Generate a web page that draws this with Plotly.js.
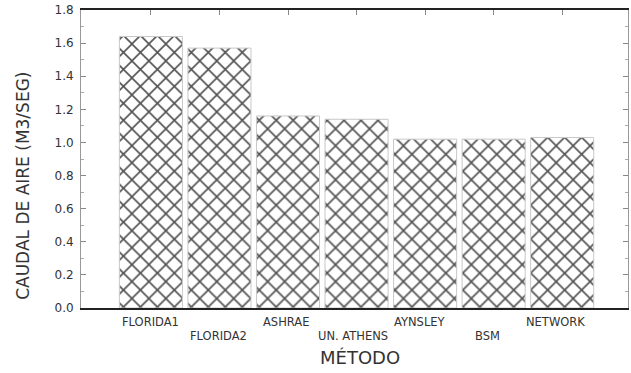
<!DOCTYPE html>
<html>
<head>
<meta charset="utf-8">
<script src="https://cdn.plot.ly/plotly-3.0.1.min.js"></script>
<style>html,body{margin:0;padding:0;background:#fff;}#chart{width:631px;height:373px;}</style>
</head>
<body>
<div id="chart"></div>
<script>
// Data
var categories = ["FLORIDA1", "FLORIDA2", "ASHRAE", "UN. ATHENS", "AYNSLEY", "BSM", "NETWORK"];
var caudal = [1.64, 1.57, 1.16, 1.14, 1.02, 1.02, 1.03];
var yTickVals = [0, 0.2, 0.4, 0.6, 0.8, 1.0, 1.2, 1.4, 1.6, 1.8];
var yTickText = ["0.0", "0.2", "0.4", "0.6", "0.8", "1.0", "1.2", "1.4", "1.6", "1.8"];
var yTitle = "CAUDAL DE AIRE (M3/SEG)";
var xTitle = "MÉTODO";

var font = "DejaVu Sans, Arial, sans-serif";
var textColor = "#333333";

var trace = {
  type: "bar",
  x: categories.map(function (c, i) { return i; }),
  y: caudal,
  width: 0.92,
  marker: {
    color: "#ffffff",
    line: { color: "#c8c8c8", width: 1 },
    pattern: { shape: "x", size: 12, solidity: 0.25, fgcolor: "#333333", bgcolor: "#ffffff", fgopacity: 0.85 }
  },
  hoverinfo: "skip"
};

var annotations = categories.map(function (c, i) {
  return {
    text: c, x: i, xref: "x", y: 0, yref: "paper",
    xanchor: "center", yanchor: "middle",
    yshift: (i % 2 === 0) ? -14 : -28,
    xshift: -i * 1.2,
    showarrow: false,
    font: { family: font, size: 11.5, color: textColor }
  };
});
annotations.push({
  text: yTitle, textangle: -90, xref: "paper", yref: "paper",
  x: 0, y: 0.41, xshift: -58, xanchor: "center", yanchor: "middle",
  showarrow: false, font: { family: font, size: 17, color: textColor }
});
annotations.push({
  text: xTitle, xref: "paper", yref: "paper",
  x: 0.51, y: 0, yshift: -49, xanchor: "center", yanchor: "middle",
  showarrow: false, font: { family: font, size: 18, color: textColor }
});

var layout = {
  width: 631, height: 373,
  margin: { l: 81, r: 3, t: 10, b: 65 },
  paper_bgcolor: "#ffffff", plot_bgcolor: "#ffffff",
  showlegend: false,
  xaxis: {
    range: [-1.02, 6.96],
    tickvals: categories.map(function (c, i) { return i; }),
    showticklabels: false,
    ticks: "inside", ticklen: 5, tickcolor: "#888",
    showline: true, linecolor: "#222", linewidth: 2, mirror: "ticks",
    showgrid: false, zeroline: false, layer: "below traces"
  },
  yaxis: {
    range: [0, 1.8],
    tickvals: yTickVals, ticktext: yTickText,
    ticks: "inside", ticklen: 5, tickcolor: "#888",
    minor: { dtick: 0.1, ticks: "inside", ticklen: 3, tickcolor: "#aaa" },
    showline: true, linecolor: "#999", linewidth: 1, mirror: "ticks",
    showgrid: false, zeroline: false,
    ticklabelstandoff: 4,
    tickfont: { family: font, size: 12, color: textColor }
  },
  annotations: annotations
};

Plotly.newPlot("chart", [trace], layout, { staticPlot: true });
</script>
</body>
</html>
